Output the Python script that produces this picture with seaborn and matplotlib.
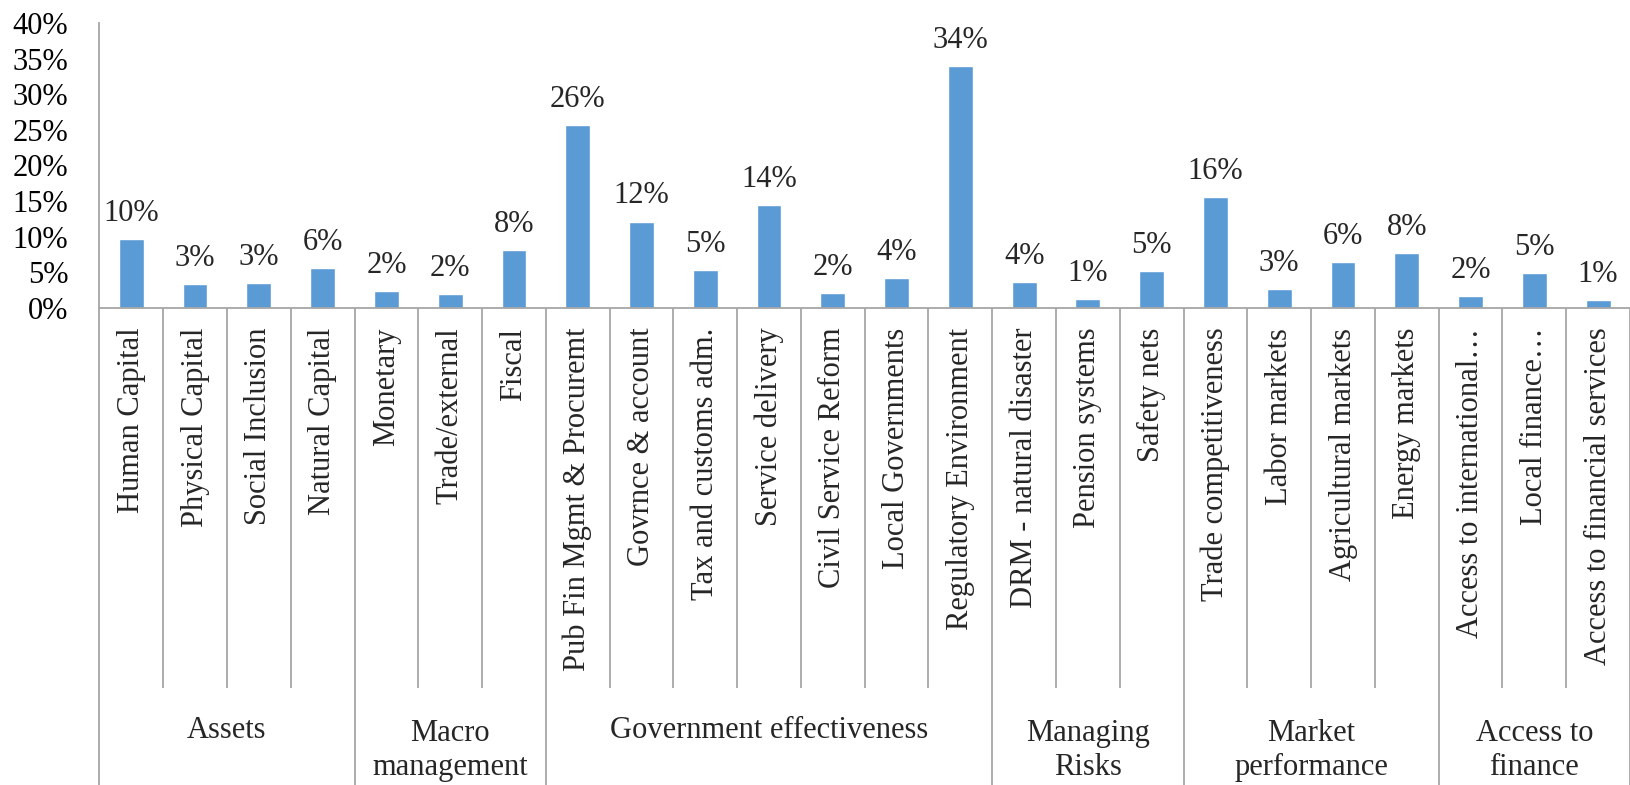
import matplotlib
matplotlib.use("Agg")
import matplotlib.pyplot as plt
import matplotlib.transforms as mtransforms
import seaborn as sns
import pandas as pd

# ---- data ----
categories = [
    "Human Capital", "Physical Capital", "Social Inclusion", "Natural Capital",
    "Monetary", "Trade/external", "Fiscal",
    "Pub Fin Mgmt & Procuremt", "Govrnce & account", "Tax and customs adm.",
    "Service delivery", "Civil Service Reform", "Local Governments",
    "Regulatory Environment",
    "DRM - natural disaster", "Pension systems", "Safety nets",
    "Trade competitiveness", "Labor markets", "Agricultural markets", "Energy markets",
    "Access to international…", "Local finance…", "Access to financial services",
]
values = [
    0.097, 0.033, 0.034, 0.056,
    0.023, 0.019, 0.081,
    0.256, 0.121, 0.053, 0.144, 0.021, 0.042, 0.340,
    0.036, 0.012, 0.052,
    0.156, 0.026, 0.064, 0.077,
    0.016, 0.049, 0.011,
]
groups = ["Assets", "Macro\nmanagement", "Government effectiveness",
          "Managing\nRisks", "Market\nperformance", "Access to\nfinance"]
group_sizes = [4, 3, 7, 3, 4, 3]
yticks = [0, 0.05, 0.10, 0.15, 0.20, 0.25, 0.30, 0.35, 0.40]

# ---- style ----
sns.set_style("white")
plt.rcParams["font.family"] = ["Liberation Serif", "DejaVu Serif"]
FS = 22
BAR = "#5B9BD5"
AXC = "#A6A6A6"
LS = 1.2

W, H, DPI = 1630, 785, 100
fig = plt.figure(figsize=(W / DPI, H / DPI), dpi=DPI)
ax_left, ax_right = 99.4 / W, 1.0
ax_bottom, ax_top = 1 - 307.7 / H, 1 - 22.9 / H
ax = fig.add_axes([ax_left, ax_bottom, ax_right - ax_left, ax_top - ax_bottom])

df = pd.DataFrame({"cat": categories, "val": values})
sns.barplot(data=df, x="cat", y="val", color=BAR, saturation=1, width=0.39, ax=ax)

ax.set_xlim(-0.5, len(categories) - 0.5)
ax.set_ylim(0, 0.40)
ax.set_yticks(yticks)
ax.set_yticklabels([f"{int(round(t * 100))}%" for t in yticks], fontsize=FS)
ax.set_xlabel("")
ax.set_ylabel("")

for s in ["top", "right"]:
    ax.spines[s].set_visible(False)
for s in ["left", "bottom"]:
    ax.spines[s].set_color(AXC)
    ax.spines[s].set_linewidth(1.3)

ax.tick_params(axis="y", direction="out", length=8.4, width=1.3, color=AXC,
               pad=14.0, labelcolor="black")
ax.set_xticks(range(len(categories)))
ax.set_xticklabels(categories, rotation=90, fontsize=FS, va="top", ha="center")
ax.tick_params(axis="x", length=0, pad=14.4)

# data labels
for i, v in enumerate(values):
    ax.annotate(f"{v * 100:.0f}%", xy=(i, v), xytext=(0, 13), textcoords="offset points",
                ha="center", va="baseline", fontsize=FS)

# multi-level category separators
ax_h_px = 307.7 - 22.9
inner_bot = (307.7 - 688) / ax_h_px
outer_bot = -2.0
trans = mtransforms.blended_transform_factory(ax.transData, ax.transAxes)
boundaries = [0]
for g in group_sizes:
    boundaries.append(boundaries[-1] + g)
group_edges = set(boundaries)
for k in range(len(categories) + 1):
    xpos = k - 0.5
    ybot = outer_bot if k in group_edges else inner_bot
    ax.plot([xpos, xpos], [0, ybot], transform=trans, color=AXC, lw=1.3,
            clip_on=False, solid_capstyle="butt")

# group labels (first line baseline aligned across groups)
label_base = (307.7 - 738) / ax_h_px
for gname, a, b in zip(groups, boundaries[:-1], boundaries[1:]):
    xc = (a + b) / 2 - 0.5
    nlines = gname.count("\n") + 1
    dy = -(nlines - 1) * LS * FS / 72.0
    t = trans + mtransforms.ScaledTranslation(0, dy, fig.dpi_scale_trans)
    ax.text(xc, label_base, gname, transform=t, ha="center", va="baseline",
            fontsize=FS, multialignment="center", linespacing=LS)

fig.savefig("out.png", dpi=DPI)
